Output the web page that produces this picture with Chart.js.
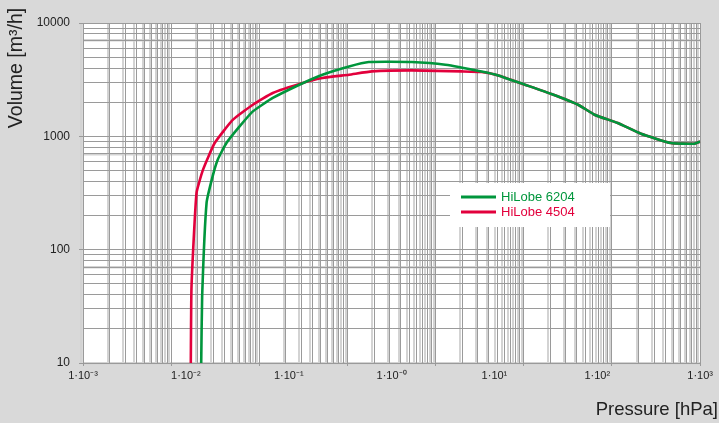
<!DOCTYPE html>
<html>
<head>
<meta charset="utf-8">
<script src="https://cdn.jsdelivr.net/npm/chart.js@4/dist/chart.umd.min.js"></script>
<style>
html,body{margin:0;padding:0;background:#d9d9d9;}
#wrap{width:719px;height:423px;position:relative;}
canvas{display:block;}
</style>
</head>
<body>
<div id="wrap"><canvas id="c" width="719" height="423"></canvas></div>
<script>
// ---- data ----
const seriesNames = ['HiLobe 6204', 'HiLobe 4504'];
const seriesColors = ['#00963c', '#e2003c'];

const pressure6204 = [0.0141, 0.0144, 0.0159, 0.0182, 0.0204, 0.0248, 0.0333, 0.0448, 0.070, 0.127, 0.213, 0.386, 0.60, 1.57, 3.33, 7.48, 10.9, 19.8, 35.8, 65, 94, 158, 266, 519, 875, 1000];
const volume6204   = [10, 38.7, 259, 443, 622, 873, 1223, 1660, 2180, 2855, 3498, 4140, 4528, 4528, 4286, 3740, 3449, 2855, 2363, 1901, 1552, 1311, 1055, 873, 861, 900];

const pressure4504 = [0.01117, 0.01135, 0.01269, 0.01469, 0.01907, 0.0287, 0.0448, 0.070, 0.1364, 0.213, 0.386, 0.645, 1.57, 4.79, 7.48, 10.9, 19.8, 35.8, 65, 94, 158, 266, 519, 875, 1000];
const volume4504   = [10, 47.4, 316, 508, 873, 1402, 1901, 2412, 2955, 3271, 3498, 3740, 3817, 3740, 3694, 3449, 2855, 2363, 1901, 1552, 1311, 1055, 873, 861, 900];

const xTickValues = [1e-3, 1e-2, 1e-1, 1, 10, 100, 1000];
const xTickLabels = ['1·10⁻³', '1·10⁻²', '1·10⁻¹', '1·10⁻⁰', '1·10¹', '1·10²', '1·10³'];
const yTickValues = [10, 100, 1000, 10000];
const yTickLabels = ['10', '100', '1000', '10000'];
const xTitle = 'Pressure [hPa]';
const yTitle = 'Volume [m³/h]';

// ---- helpers ----
function logGridValues(minExp, maxExp) {
  const v = [];
  for (let e = minExp; e < maxExp; e++) {
    for (let s = 1; s <= 9; s++) v.push(parseFloat((s * Math.pow(10, e)).toPrecision(6)));
  }
  v.push(Math.pow(10, maxExp));
  return v;
}
function isDecade(v) {
  const l = Math.log10(v);
  return Math.abs(l - Math.round(l)) < 1e-6;
}
function toPoints(xs, ys) { return xs.map((x, i) => ({x: x, y: ys[i]})); }

const DARK = '#9a9a9a';
const LIGHT = '#d3d3d3';
const TXT = '#222222';

const plotBg = {
  id: 'plotBg',
  beforeDraw(chart) {
    const {ctx, chartArea: a} = chart;
    ctx.save();
    ctx.fillStyle = '#ffffff';
    ctx.fillRect(a.left, a.top, a.right - a.left, a.bottom - a.top);
    ctx.restore();
  }
};

const titlesAndLegend = {
  id: 'titlesAndLegend',
  afterDraw(chart) {
    const ctx = chart.ctx;
    ctx.save();
    // axis titles
    ctx.fillStyle = TXT;
    ctx.textBaseline = 'middle';
    ctx.font = '18.5px "Liberation Sans", Arial, sans-serif';
    ctx.textAlign = 'right';
    ctx.fillText(xTitle, 718, 410);
    ctx.save();
    ctx.font = '19.5px "Liberation Sans", Arial, sans-serif';
    ctx.translate(17, 68);
    ctx.rotate(-Math.PI / 2);
    ctx.textAlign = 'center';
    ctx.fillText(yTitle, 0, 0);
    ctx.restore();
    // legend
    ctx.fillStyle = '#ffffff';
    ctx.fillRect(450, 183, 160, 44);
    ctx.font = '13px "Liberation Sans", Arial, sans-serif';
    ctx.textAlign = 'left';
    chart.data.datasets.forEach((ds, i) => {
      const y = 197 + i * 15;
      ctx.strokeStyle = ds.borderColor;
      ctx.lineWidth = 3;
      ctx.beginPath();
      ctx.moveTo(461, y);
      ctx.lineTo(496, y);
      ctx.stroke();
      ctx.fillStyle = ds.borderColor;
      ctx.fillText(ds.label, 501, y + 0.5);
    });
    ctx.restore();
  }
};

const xGridVals = logGridValues(-3, 4);
const yGridVals = logGridValues(1, 4);

new Chart(document.getElementById('c'), {
  type: 'line',
  data: {
    datasets: [
      {label: seriesNames[0], data: toPoints(pressure6204, volume6204), xAxisID: 'x', yAxisID: 'y', borderColor: seriesColors[0], backgroundColor: seriesColors[0], borderWidth: 2.6, pointRadius: 0, tension: 0.15, fill: false},
      {label: seriesNames[1], data: toPoints(pressure4504, volume4504), xAxisID: 'x', yAxisID: 'y', borderColor: seriesColors[1], backgroundColor: seriesColors[1], borderWidth: 2.6, pointRadius: 0, tension: 0.15, fill: false}
    ]
  },
  options: {
    responsive: false,
    animation: false,
    devicePixelRatio: 1,
    layout: {padding: {top: 23, right: 16, bottom: 0, left: 0}},
    plugins: {legend: {display: false}, tooltip: {enabled: false}},
    scales: {
      xg: {
        type: 'logarithmic', position: 'bottom', weight: 0,
        min: 1e-3, max: 1e4,
        afterBuildTicks: s => { s.ticks = xGridVals.map(v => ({value: v})); },
        afterFit: s => { s.height = 0; },
        ticks: {display: false},
        grid: {display: true, color: DARK, lineWidth: 1, drawTicks: true, tickLength: 3, z: -1,
               tickColor: c => (c.tick && isDecade(c.tick.value)) ? DARK : 'rgba(0,0,0,0)'},
        border: {display: true, color: DARK, width: 1}
      },
      x: {
        type: 'logarithmic', position: 'bottom', weight: 1,
        min: 1e-3, max: 1e3,
        afterBuildTicks: s => { s.ticks = xTickValues.map(v => ({value: v})); },
        afterFit: s => { s.height = 60; },
        ticks: {
          autoSkip: false, maxRotation: 0, padding: 6, color: TXT,
          font: {family: '"Liberation Sans", Arial, sans-serif', size: 11},
          callback: (v) => { const i = xTickValues.findIndex(t => Math.abs(t - v) / t < 1e-6); return i >= 0 ? xTickLabels[i] : ''; }
        },
        grid: {display: false, drawTicks: false},
        border: {display: false}
      },
      xl: {
        type: 'logarithmic', position: 'bottom', weight: 2,
        min: Math.pow(10, -3 + 2 / 88.6), max: Math.pow(10, 4 + 2 / 88.6),
        afterBuildTicks: s => { s.ticks = xGridVals.map(v => ({value: v})); },
        afterFit: s => { s.height = 0; },
        ticks: {display: false},
        grid: {display: true, color: LIGHT, lineWidth: 2, drawTicks: false, z: -2},
        border: {display: false}
      },
      y: {
        type: 'logarithmic', position: 'left', weight: 0,
        min: 10, max: 10000,
        afterBuildTicks: s => { s.ticks = yGridVals.map(v => ({value: v})); },
        afterFit: s => { s.width = 83; },
        ticks: {
          autoSkip: false, padding: 9, color: TXT,
          font: {family: '"Liberation Sans", Arial, sans-serif', size: 12},
          callback: (v) => { const i = yTickValues.findIndex(t => Math.abs(t - v) / t < 1e-6); return i >= 0 ? yTickLabels[i] : ''; }
        },
        grid: {display: true, color: DARK, lineWidth: 1, drawTicks: true, tickLength: 4, z: -1,
               tickColor: c => (c.tick && isDecade(c.tick.value)) ? DARK : 'rgba(0,0,0,0)'},
        border: {display: true, color: DARK, width: 1}
      },
      yl: {
        type: 'logarithmic', position: 'left', weight: 1,
        min: 10, max: 10000,
        afterBuildTicks: s => { s.ticks = [10, 70, 700, 7000].map(v => ({value: v})); },
        afterFit: s => { s.width = 0; },
        ticks: {display: false},
        grid: {display: true, color: LIGHT, lineWidth: 2.5, drawTicks: false, z: -2},
        border: {display: false}
      }
    }
  },
  plugins: [plotBg, titlesAndLegend]
});
</script>
</body>
</html>
